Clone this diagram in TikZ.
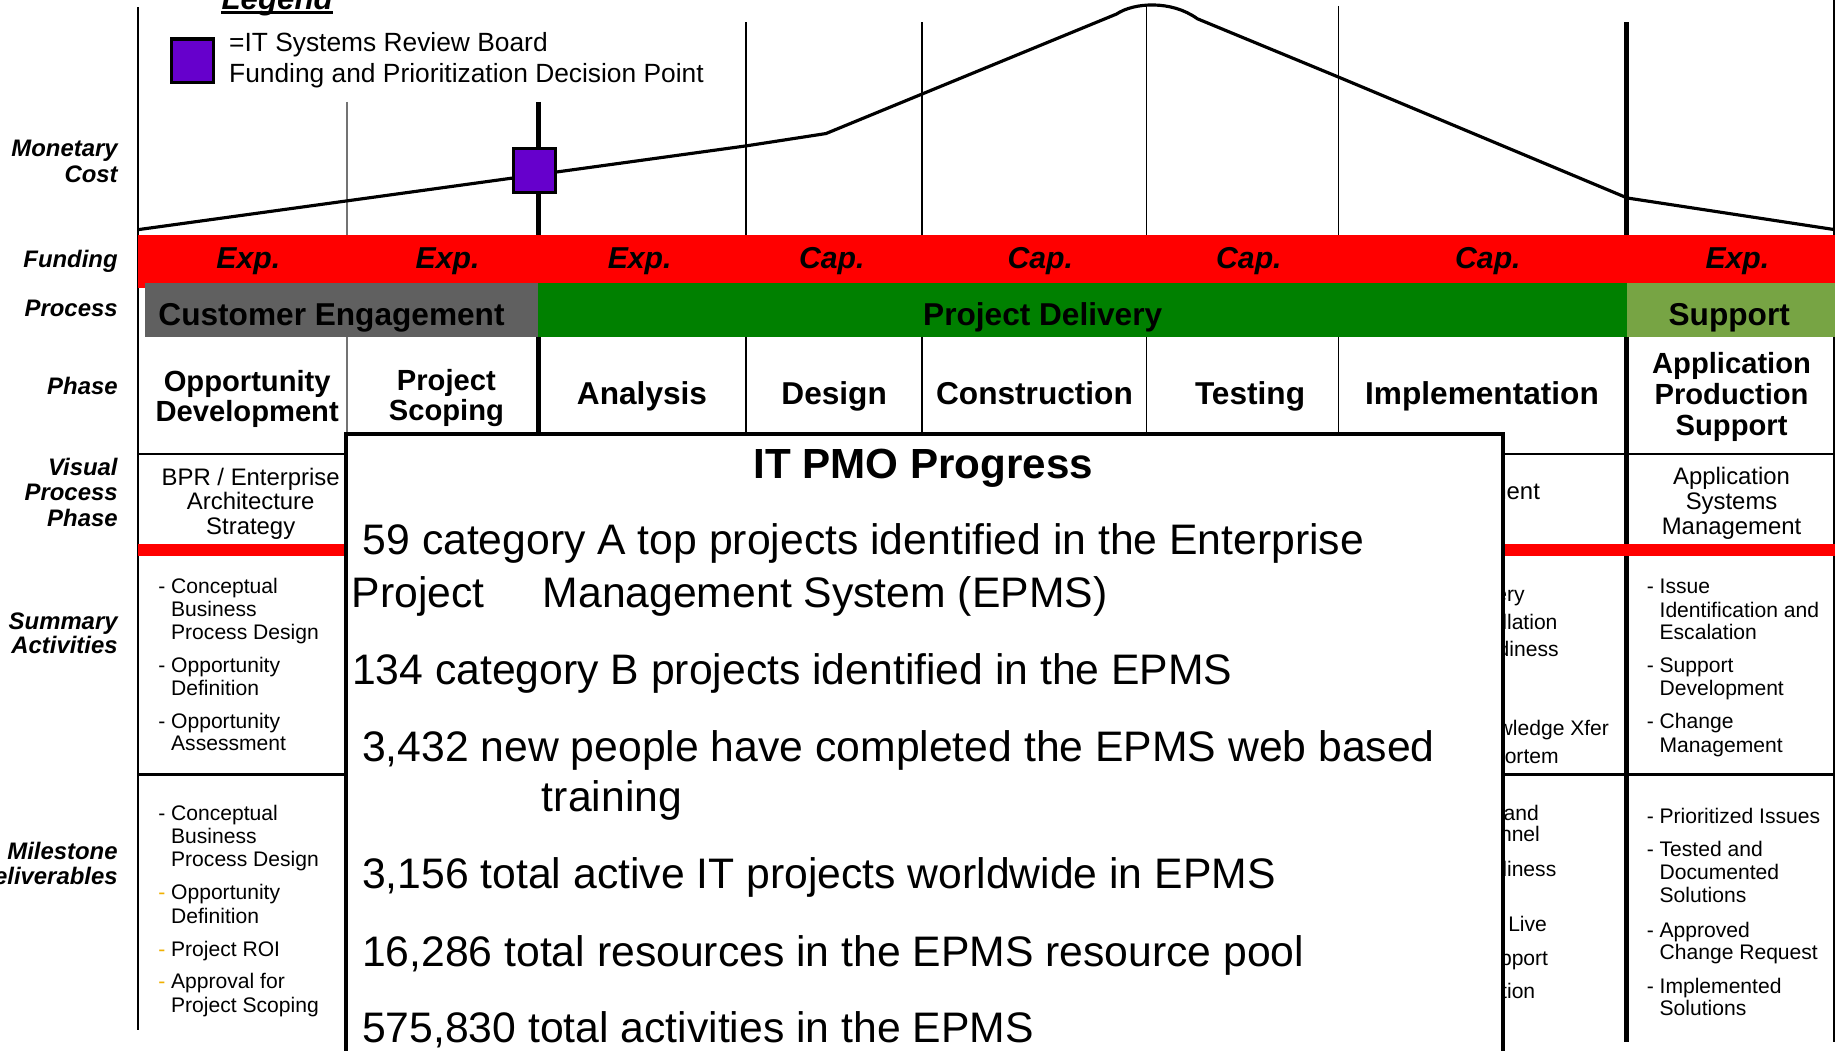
\documentclass[tikz,border=0pt]{standalone}
\usepackage{fontspec}
\setmainfont{Liberation Sans}
\definecolor{fundred}{RGB}{255,0,0}
\definecolor{cegray}{RGB}{96,96,96}
\definecolor{pdgreen}{RGB}{0,128,0}
\definecolor{spgreen}{RGB}{119,164,68}
\definecolor{dpurple}{RGB}{102,0,204}
\definecolor{dashorange}{RGB}{240,176,0}
\tikzset{
  lbl/.style={anchor=base east, inner sep=0pt, font=\fontsize{6.8}{8}\selectfont\bfseries\itshape},
  fund/.style={anchor=base, inner sep=0pt, font=\fontsize{8.6}{10}\selectfont\bfseries\itshape},
  proc/.style={anchor=base, inner sep=0pt, font=\fontsize{9}{10}\selectfont\bfseries},
  phase/.style={anchor=base, inner sep=0pt, font=\fontsize{9}{10}\selectfont\bfseries},
  phasesm/.style={anchor=base, inner sep=0pt, font=\fontsize{8.3}{9}\selectfont\bfseries},
  vp/.style={anchor=base, inner sep=0pt, font=\fontsize{6.8}{7}\selectfont},
  itm/.style={anchor=base west, inner sep=0pt, font=\fontsize{6}{7}\selectfont},
  frag/.style={anchor=base east, inner sep=0pt, font=\fontsize{6}{7}\selectfont},
  big/.style={anchor=base west, inner sep=0pt, font=\fontsize{12.15}{14}\selectfont},
  legtxt/.style={anchor=base west, inner sep=0pt, font=\fontsize{7.5}{9}\selectfont},
  thinline/.style={line width=0.5pt},
  grayline/.style={line width=0.5pt, draw=black!55},
  thickline/.style={line width=1.5pt},
  borderline/.style={line width=0.7pt},
  costline/.style={line width=0.9pt, line join=round},
  decision/.style={fill=dpurple, draw=black, line width=0.9pt},
}
\begin{document}
\begin{tikzpicture}[x=0.011716cm, y=-0.011716cm]
\clip (0,0) rectangle (1568,897);
\fill[white] (0,0) rectangle (1568,897);

% ---------- vertical grid lines ----------
\draw[grayline] (296,87) -- (296,371);
\draw[thinline] (637,19) -- (637,380);
\draw[thinline] (787,19) -- (787,380);
\draw[thinline] (978.5,5) -- (978.5,380);
\draw[thinline] (1142.5,5) -- (1142.5,380);
\draw[thickline] (459.5,87) -- (459.5,380);
\draw[thickline] (1388.5,19) -- (1388.5,889);
\draw[borderline] (118,6) -- (118,879);
\draw[borderline] (1565.5,0) -- (1565.5,889);

% ---------- monetary cost curve ----------
\draw[costline] (118,196) -- (637,124.5) -- (705,114) -- (953,12)
  .. controls (968,2) and (1000,0) .. (1022,16) -- (1143,66) -- (1389,169) -- (1566,196);
\node[decision, minimum width=36*0.011716cm, minimum height=37*0.011716cm, inner sep=0pt] (dp) at (456,145.5) {};

% ---------- funding bar ----------
\fill[fundred] (118,201) rectangle (1566,241.5);
\fill[fundred] (118,241.5) rectangle (124,246);
\node[fund] (f1) at (212,229) {Exp.};
\node[fund] (f2) at (382,229) {Exp.};
\node[fund] (f3) at (546,229) {Exp.};
\node[fund] (f4) at (710,229) {Cap.};
\node[fund] (f5) at (888,229) {Cap.};
\node[fund] (f6) at (1066,229) {Cap.};
\node[fund] (f7) at (1270,229) {Cap.};
\node[fund] (f8) at (1483,229) {Exp.};

% ---------- process bar ----------
\fill[cegray] (124,241.5) rectangle (459.5,287.5);
\fill[pdgreen] (459.5,241.5) rectangle (1388.5,287.5);
\fill[spgreen] (1388.5,241.5) rectangle (1566,287.5);
\node[proc] (p1) at (283,277.5) {Customer Engagement};
\node[proc] (p2) at (890,277.5) {Project Delivery};
\node[proc] (p3) at (1476,277.5) {Support};

% ---------- phase row ----------
\node[phasesm] (ph1a) at (211,334) {Opportunity};
\node[phasesm] (ph1b) at (211,360) {Development};
\node[phasesm] (ph2a) at (381,333) {Project};
\node[phasesm] (ph2b) at (381,359) {Scoping};
\node[phase] (ph3) at (548,345.5) {Analysis};
\node[phase] (ph4) at (712,345.5) {Design};
\node[phase] (ph5) at (883,345.5) {Construction};
\node[phase] (ph6) at (1067,345.5) {Testing};
\node[phase] (ph7) at (1265,345.5) {Implementation};
\node[phasesm] (ph8a) at (1478,318.5) {Application};
\node[phasesm] (ph8b) at (1478,345) {Production};
\node[phasesm] (ph8c) at (1478,371.5) {Support};

% ---------- horizontal separators ----------
\draw[line width=0.8pt] (118,387.5) -- (1566,387.5);
\fill[fundred] (118,464.5) rectangle (1566,474.5);
\draw[line width=0.8pt] (118,661) -- (1566,661);

% ---------- visual process phase ----------
\node[vp] (vp1a) at (214,414) {BPR / Enterprise};
\node[vp] (vp1b) at (214,435.3) {Architecture};
\node[vp] (vp1c) at (214,455.8) {Strategy};
\node[vp] (vp8a) at (1478,413.5) {Application};
\node[vp] (vp8b) at (1478,435.3) {Systems};
\node[vp] (vp8c) at (1478,455.8) {Management};

% ---------- summary activities ----------
\foreach \y/\t [count=\i] in {507/Conceptual, 526.5/Business, 546/Process Design,
    574/Opportunity, 593.5/Definition, 621.5/Opportunity, 641/Assessment}
  \node[itm] (sa\i) at (145.5,\y) {\t};
\foreach \y [count=\i] in {507,574,621.5}
  \node[itm] (sad\i) at (134.5,\y) {-};
\foreach \y/\t [count=\i] in {507/Issue, 527/Identification and, 546/Escalation,
    574/Support, 594/Development, 622/Change, 642/Management}
  \node[itm] (sb\i) at (1416,\y) {\t};
\foreach \y [count=\i] in {507,574,622}
  \node[itm] (sbd\i) at (1405,\y) {-};

% ---------- milestone deliverables ----------
\foreach \y/\t [count=\i] in {700.5/Conceptual, 720/Business, 739.5/Process Design,
    768/Opportunity, 788/Definition, 816/Project ROI, 844/Approval for, 864.5/Project Scoping}
  \node[itm] (ma\i) at (145.5,\y) {\t};
\node[itm] (mad1) at (134.5,700.5) {-};
\foreach \y [count=\i] in {768,816,844}
  \node[itm, text=dashorange] (mao\i) at (134.5,\y) {-};
\foreach \y/\t [count=\i] in {703/Prioritized Issues, 731/Tested and, 751/Documented,
    770/Solutions, 800/Approved, 819/Change Request, 848/Implemented, 867/Solutions}
  \node[itm] (mb\i) at (1416,\y) {\t};
\foreach \y [count=\i] in {703,731,800,848}
  \node[itm] (mbd\i) at (1405,\y) {-};

% ---------- implementation column (partly hidden) ----------
\node[frag, font=\fontsize{6.8}{7}\selectfont] (ig1) at (1315,426) {ment};
\node[frag] (ig2) at (1302,513) {very};
\node[frag] (ig3) at (1330,537) {allation};
\node[frag] (ig4) at (1331,560) {adiness};
\node[frag] (ig5) at (1374,628) {owledge Xfer};
\node[frag] (ig6) at (1331,652) {Mortem};
\node[frag] (ig7) at (1314,700) {and};
\node[frag] (ig8) at (1315,718) {onnel};
\node[frag] (ig9) at (1329,748) {adiness};
\node[frag] (ig10) at (1321,795) {Live};
\node[frag] (ig11) at (1322,824) {upport};
\node[frag] (ig12) at (1311,852) {ation};

% ---------- IT PMO Progress overlay ----------
\draw[fill=white, line width=1.3pt] (295.5,370.5) rectangle (1283,925);
\node[anchor=base, inner sep=0pt, font=\fontsize{12}{14}\selectfont\bfseries] (pmo) at (788,408.5) {IT PMO Progress};
\node[big] (t1) at (309,473) {59 category A top projects identified in the Enterprise};
\node[big] (t1b) at (299.5,518.5) {\makebox[54.4pt][l]{Project}Management System (EPMS)};
\node[big] (t2) at (300,584) {134 category B projects identified in the EPMS};
\node[big] (t3) at (308.5,650) {3,432 new people have completed the EPMS web based};
\node[big] (t3b) at (462,693) {training};
\node[big] (t4) at (308.5,758.5) {3,156 total active IT projects worldwide in EPMS};
\node[big] (t5) at (308.5,825) {16,286 total resources in the EPMS resource pool};
\node[big] (t6) at (308.5,890) {575,830 total activities in the EPMS};

% ---------- row labels ----------
\node[lbl] (lm1) at (101,134) {Monetary};
\node[lbl] (lm2) at (101,155.5) {Cost};
\node[lbl] (lf) at (101,228) {Funding};
\node[lbl] (lp) at (101,270) {Process};
\node[lbl] (lph) at (101,337) {Phase};
\node[lbl] (lv1) at (101,406) {Visual};
\node[lbl] (lv2) at (101,427.5) {Process};
\node[lbl] (lv3) at (101,449) {Phase};
\node[lbl] (ls1) at (101,537) {Summary};
\node[lbl] (ls2) at (101,558) {Activities};
\node[lbl] (lmd1) at (101,734) {Milestone};
\node[lbl] (lmd2) at (101,755) {Deliverables};

% ---------- legend ----------
\node[anchor=base west, inner sep=0pt, font=\fontsize{8.9}{10}\selectfont\bfseries\itshape] (leg) at (188.5,8) {Legend};
\draw[line width=0.9pt] ([yshift=-0.9pt]leg.base west) -- ([yshift=-0.9pt]leg.base east);
\node[decision, anchor=north west, minimum width=36*0.011716cm, minimum height=37*0.011716cm, inner sep=0pt] (legsq) at (145,32) {};
\node[legtxt] (lt1) at (195,44) {=IT Systems Review Board};
\node[legtxt] (lt2) at (195,70.6) {Funding and Prioritization Decision Point};
\end{tikzpicture}
\end{document}
